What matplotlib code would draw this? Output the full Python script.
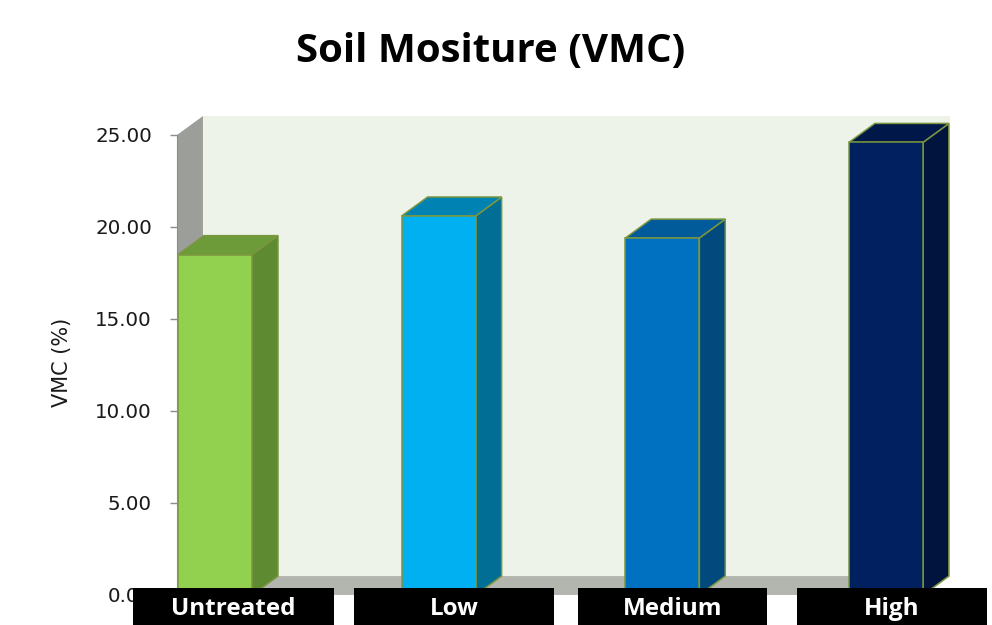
import matplotlib
matplotlib.use("Agg")
import matplotlib.pyplot as plt
from matplotlib.patches import Polygon, Rectangle
import numpy as np

# data
categories = ["Untreated", "Low", "Medium", "High"]
vmc = [18.5, 20.6, 19.4, 24.6]
yticks = [0, 5, 10, 15, 20, 25]

front_cols = ["#92D050", "#00B0F0", "#0070C0", "#002060"]
side_cols = ["#5E8A31", "#006E95", "#024A7E", "#00143E"]
top_cols = ["#6E9B3A", "#0083B3", "#015B9A", "#001849"]
edge_col = "#7A963E"

# label box layout (offset of box centre from bar centre, and box width, in category units)
box_shift = [0.083, 0.069, 0.045, 0.027]
box_width = [0.90, 0.895, 0.845, 0.85]

fig = plt.figure(figsize=(9.92, 6.25), dpi=100)
ax = fig.add_axes([177 / 992, 30 / 625, 747 / 992, 460 / 625])

x = np.arange(len(categories))
w = 0.331
xmin, xmax = -0.17, 3.17
ymin, ymax = 0, 25
# depth offset of the fake 3d (data units)
dx, dy = 0.116, 1.03

ax.set_xlim(xmin, xmax)
ax.set_ylim(ymin, ymax)

# walls and floor
ax.add_patch(Polygon([(xmin + dx, dy), (xmax + dx, dy), (xmax + dx, ymax + dy), (xmin + dx, ymax + dy)],
                     closed=True, fc="#EEF3EA", ec="none", zorder=0.5, clip_on=False))
ax.add_patch(Polygon([(xmin, 0), (xmin + dx, dy), (xmin + dx, ymax + dy), (xmin, ymax)],
                     closed=True, fc="#9C9E9A", ec="none", zorder=0.6, clip_on=False))
ax.add_patch(Polygon([(xmin, 0), (xmax, 0), (xmax + dx, dy), (xmin + dx, dy)],
                     closed=True, fc="#B3B5AF", ec="none", zorder=0.6, clip_on=False))

# bars
ax.bar(x, vmc, width=w, color=front_cols, edgecolor=edge_col, linewidth=1.1, zorder=3, clip_on=False)
for xi, v, sc, tc in zip(x, vmc, side_cols, top_cols):
    l, r = xi - w / 2, xi + w / 2
    ax.add_patch(Polygon([(r, 0), (r + dx, dy), (r + dx, v + dy), (r, v)], closed=True,
                         fc=sc, ec=edge_col, lw=1.1, zorder=2.9, clip_on=False))
    ax.add_patch(Polygon([(l, v), (r, v), (r + dx, v + dy), (l + dx, v + dy)], closed=True,
                         fc=tc, ec=edge_col, lw=1.1, zorder=2.9, clip_on=False))

# category labels in black boxes
for xi, name, sh, bw in zip(x, categories, box_shift, box_width):
    c = xi + sh
    ax.add_patch(Rectangle((c - bw / 2, -3.0), bw, 3.36, fc="black", ec="none",
                           zorder=5, clip_on=False))
    ax.text(c, -0.78, name, color="white", fontsize=17.5, fontweight="bold",
            family="Open Sans", ha="center", va="center", zorder=6, clip_on=False)

# axes styling
for s in ["top", "right", "bottom"]:
    ax.spines[s].set_visible(False)
ax.spines["left"].set_color("#8C8C8C")
ax.spines["left"].set_zorder(4)
ax.set_xticks([])
ax.set_yticks(yticks)
ax.set_yticklabels(["%.2f" % t for t in yticks], fontsize=14.3, color="#1A1A1A")
ax.tick_params(axis="y", length=5, width=1, color="#8C8C8C", pad=13)
ax.set_ylabel("VMC (%)", fontsize=15, color="#1A1A1A")
ax.yaxis.set_label_coords(-0.141, 0.505)
ax.patch.set_visible(False)

fig.text(491 / 992, 1 - 52 / 625, "Soil Mositure (VMC)", fontsize=29, fontweight="bold",
         family="Open Sans", ha="center", va="center")

fig.savefig("out.png", dpi=100)
